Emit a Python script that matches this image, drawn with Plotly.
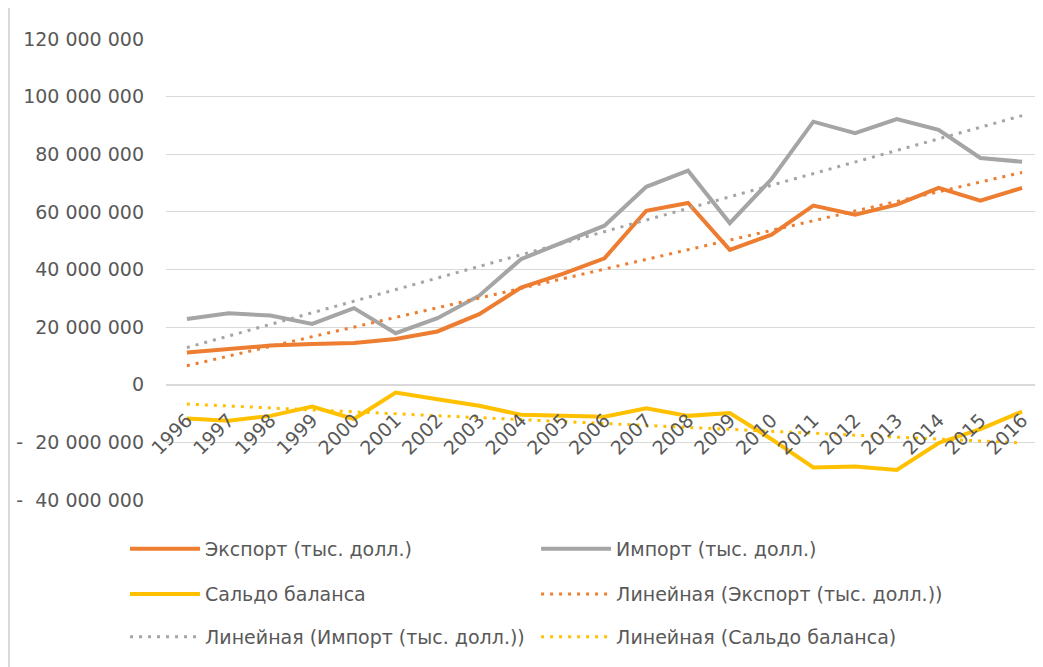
import plotly.graph_objects as go

# Годы (категории оси X)
YEARS = [1996, 1997, 1998, 1999, 2000, 2001, 2002, 2003, 2004, 2005, 2006,
         2007, 2008, 2009, 2010, 2011, 2012, 2013, 2014, 2015, 2016]

# тыс. долл.
EXPORT = [11_200_000, 12_400_000, 13_600_000, 14_100_000, 14_500_000, 15_900_000,
          18_500_000, 24_500_000, 33_700_000, 38_500_000, 43_900_000, 60_400_000,
          63_100_000, 46_800_000, 52_100_000, 62_200_000, 59_000_000, 62_500_000,
          68_300_000, 63_900_000, 68_300_000]
IMPORT = [22_800_000, 24_800_000, 24_000_000, 21_100_000, 26_600_000, 17_900_000,
          23_100_000, 30_900_000, 43_600_000, 49_400_000, 55_200_000, 68_700_000,
          74_300_000, 56_100_000, 71_400_000, 91_300_000, 87_300_000, 92_200_000,
          88_500_000, 78_700_000, 77_400_000]
BALANCE = [-11_700_000, -12_500_000, -10_800_000, -7_600_000, -11_900_000, -2_700_000,
           -5_000_000, -7_300_000, -10_400_000, -10_800_000, -11_100_000, -8_200_000,
           -10_800_000, -9_800_000, -18_900_000, -28_700_000, -28_400_000, -29_600_000,
           -20_200_000, -15_400_000, -9_300_000]

# линейные тренды (начало и конец)
TREND_YEARS = [1996, 2016]
EXPORT_TREND = [6_600_000, 73_700_000]
IMPORT_TREND = [12_900_000, 93_400_000]
BALANCE_TREND = [-6_700_000, -20_200_000]

TICK_VALS = [-40_000_000, -20_000_000, 0, 20_000_000, 40_000_000, 60_000_000,
             80_000_000, 100_000_000, 120_000_000]
TICK_TEXT = ["-\u00a0\u00a040\u00a0000\u00a0000", "-\u00a0\u00a020\u00a0000\u00a0000", "0",
             "20\u00a0000\u00a0000", "40\u00a0000\u00a0000", "60\u00a0000\u00a0000",
             "80\u00a0000\u00a0000", "100\u00a0000\u00a0000", "120\u00a0000\u00a0000"]

ORANGE = "#ED7D31"
GRAY = "#A5A5A5"
YELLOW = "#FFC000"
TEXT = "#595959"
GRID = "#D9D9D9"
FONT = "DejaVu Sans"
DOT = "3px,6px"

series = [
    ("Экспорт (тыс. долл.)", YEARS, EXPORT, ORANGE, None, "legend"),
    ("Импорт (тыс. долл.)", YEARS, IMPORT, GRAY, None, "legend2"),
    ("Сальдо баланса", YEARS, BALANCE, YELLOW, None, "legend3"),
    ("Линейная (Экспорт (тыс. долл.))", TREND_YEARS, EXPORT_TREND, ORANGE, DOT, "legend4"),
    ("Линейная (Импорт (тыс. долл.))", TREND_YEARS, IMPORT_TREND, GRAY, DOT, "legend5"),
    ("Линейная (Сальдо баланса)", TREND_YEARS, BALANCE_TREND, YELLOW, DOT, "legend6"),
]

fig = go.Figure()
for name, xs, ys, color, dash, leg in series:
    fig.add_trace(go.Scatter(
        x=xs, y=ys, mode="lines", name=name, legend=leg,
        line={"color": color, "width": 3 if dash else 4, "dash": dash or "solid"},
    ))

# две колонки по три строки, как в Excel
col_x = [-0.0467, 0.422]
row_y = [-0.106, -0.204, -0.297]
legend_common = dict(
    orientation="h", xanchor="left", yanchor="middle",
    font={"family": FONT, "size": 19, "color": TEXT},
    bgcolor="rgba(0,0,0,0)", itemwidth=70,
)
slots = [(0, 0), (1, 0), (0, 1), (1, 1), (0, 2), (1, 2)]
legends = {}
for i, (c, r) in enumerate(slots):
    key = "legend" if i == 0 else f"legend{i + 1}"
    legends[key] = dict(legend_common, x=col_x[c], y=row_y[r])

# страница имеет отступ 8px, поэтому фигура чуть меньше окна
fig.update_layout(
    width=1035, height=659,
    margin={"l": 158, "r": 0, "t": 31, "b": 167},
    paper_bgcolor="white", plot_bgcolor="white",
    font={"family": FONT, "size": 19, "color": TEXT},
    showlegend=True,
    **legends,
    shapes=[{
        "type": "line", "xref": "paper", "yref": "paper",
        "x0": -0.179, "x1": -0.179, "y0": -0.37, "y1": 1.09,
        "line": {"color": GRID, "width": 2},
    }],
)
fig.update_xaxes(
    range=[1995.5, 2016.5], tickvals=YEARS, tickangle=-45,
    anchor="free", position=0.25, automargin=False,
    showgrid=False, zeroline=False, showline=True, linecolor=GRID, linewidth=1,
    ticks="", ticklabelstandoff=16,
    tickfont={"family": FONT, "size": 19, "color": TEXT},
)
fig.update_yaxes(
    range=[-40_000_000, 120_000_000], tickvals=TICK_VALS, ticktext=TICK_TEXT,
    showgrid=True, gridcolor=GRID, gridwidth=1, zeroline=False, showline=False,
    ticks="", ticklabelstandoff=21, automargin=False,
    tickfont={"family": FONT, "size": 19, "color": TEXT},
)

fig.write_html("out.html")
